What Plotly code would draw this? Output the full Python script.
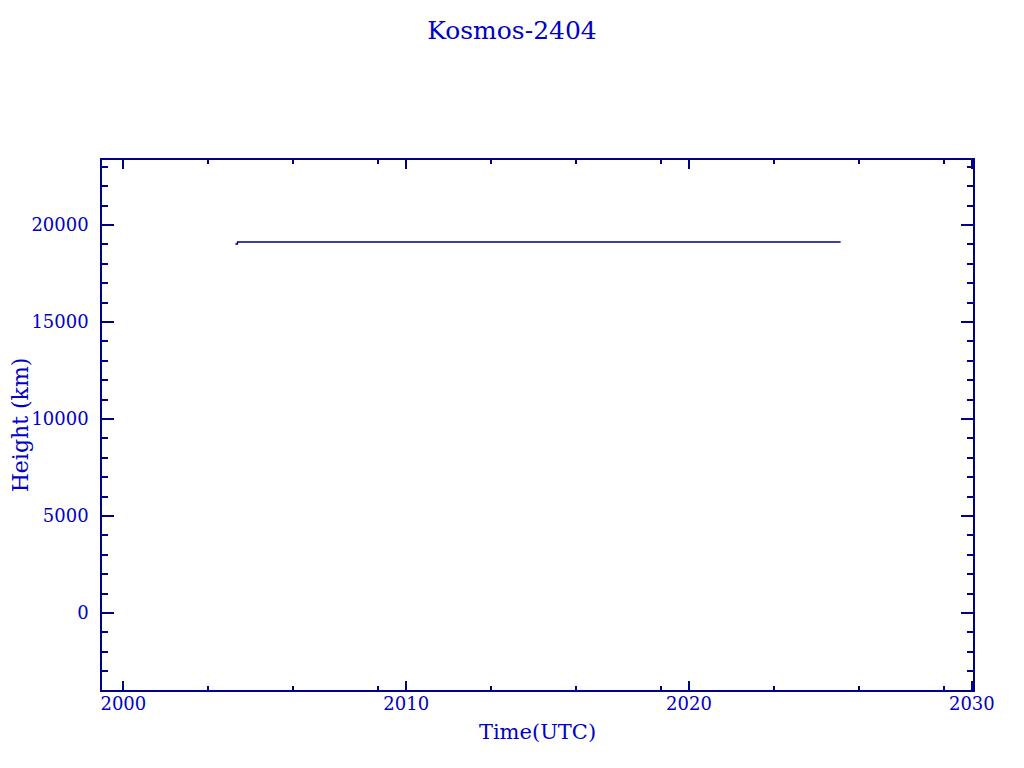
import plotly.graph_objects as go

# Data (decimal years, km)
times = [2003.96, 2004.03, 2004.04, 2025.36]
heights = [19020, 19020, 19125, 19125]

x_major = [2000, 2010, 2020, 2030]
x_minor = [2003, 2006, 2009, 2013, 2016, 2019, 2023, 2026, 2029]
y_major = [0, 5000, 10000, 15000, 20000]
y_minor = list(range(-3000, 24000, 1000))

TEXT = "#0000C8"
LINE = "#000088"
FONT = "DejaVu Serif"

# page body has an 8px offset; compensate in margins
OFF = 8

fig = go.Figure()
fig.add_trace(go.Scatter(x=times, y=heights, mode="lines",
                         line=dict(color=LINE, width=1.6), showlegend=False))

fig.update_layout(
    width=1024, height=768,
    paper_bgcolor="white", plot_bgcolor="white",
    margin=dict(l=102 - OFF, r=1024 - (973 - OFF), t=160 - OFF, b=768 - (690 - OFF)),
    title=dict(text="Kosmos-2404", x=(512 - OFF) / 1024, xanchor="center",
               y=1 - (30 - OFF) / 768, yanchor="middle",
               font=dict(family=FONT, size=25, color=TEXT)),
    font=dict(family=FONT, color=TEXT),
)

fig.update_xaxes(
    range=[1999.245, 2030.04], showgrid=False, zeroline=False, automargin=False,
    showline=True, linecolor=LINE, linewidth=1.5, mirror="ticks",
    ticks="inside", ticklen=9, tickwidth=1.5, tickcolor=LINE,
    tickmode="array", tickvals=x_major, ticktext=[str(v) for v in x_major],
    tickfont=dict(family=FONT, size=18, color=TEXT), ticklabelstandoff=-3,
    minor=dict(tickmode="array", tickvals=x_minor, ticks="inside",
               ticklen=4, tickwidth=1.5, tickcolor=LINE, showgrid=False),
    title=dict(text="Time(UTC)", font=dict(family=FONT, size=21, color=TEXT),
               standoff=11),
)
fig.update_yaxes(
    range=[-3970, 23350], showgrid=False, zeroline=False, automargin=False,
    showline=True, linecolor=LINE, linewidth=1.5, mirror="ticks",
    ticks="inside", ticklen=12, tickwidth=1.5, tickcolor=LINE,
    tickmode="array", tickvals=y_major, ticktext=[str(v) for v in y_major],
    tickfont=dict(family=FONT, size=18, color=TEXT), ticklabelstandoff=8,
    minor=dict(tickmode="array", tickvals=y_minor, ticks="inside",
               ticklen=6, tickwidth=1.5, tickcolor=LINE, showgrid=False),
    title=dict(text="Height (km)", font=dict(family=FONT, size=22, color=TEXT),
               standoff=9),
)

fig.write_html("out.html")
